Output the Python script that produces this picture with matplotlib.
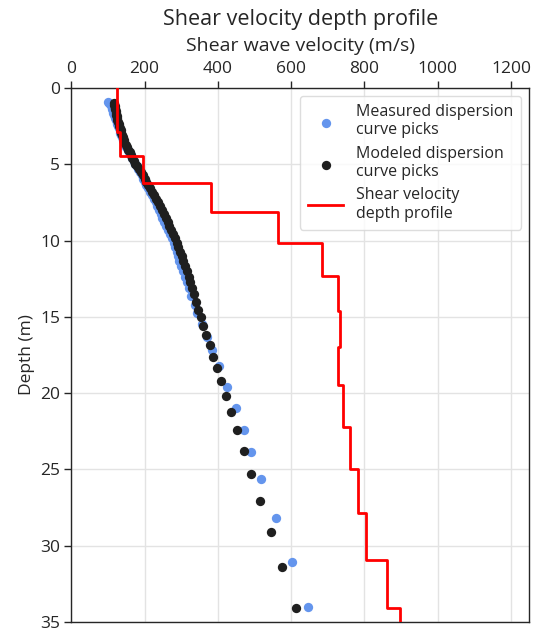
import matplotlib
matplotlib.use("Agg")
import matplotlib.pyplot as plt

plt.rcParams['font.family'] = ['Open Sans', 'DejaVu Sans']
plt.rcParams['text.color'] = '#262626'
plt.rcParams['axes.labelcolor'] = '#262626'
plt.rcParams['xtick.color'] = '#262626'
plt.rcParams['ytick.color'] = '#262626'

# measured dispersion curve picks (depth m, velocity m/s)
meas_depth = [0.90, 0.98, 1.06, 1.14, 1.22, 1.31, 1.40, 1.50, 1.62, 1.74, 1.86, 1.98,
              2.10, 2.23, 2.36, 2.50, 2.64, 2.78, 2.93, 3.08, 3.23, 3.39, 3.55, 3.71,
              3.88, 4.05, 4.22, 4.40, 4.58, 4.76, 4.95, 5.14, 5.33, 5.53, 5.73, 5.94,
              6.15, 6.36, 6.58, 6.80, 7.03, 7.26, 7.50, 7.74, 7.99, 8.24, 8.50, 8.76,
              9.03, 9.30, 9.58, 9.86, 10.15, 10.44, 10.74, 11.04, 11.35, 11.66, 12.00,
              12.36, 12.73, 13.10, 13.60, 14.20, 14.76, 15.47, 16.30, 17.17, 18.20,
              19.60, 21.00, 22.40, 23.85, 25.60, 28.20, 31.10, 34.00]
meas_vel = [101, 104, 106, 108, 110, 111, 112, 113, 114, 116, 118, 120,
            122, 124, 126, 128, 130, 132, 133, 136, 138, 140, 143, 146,
            150, 154, 158, 162, 166, 170, 174, 178, 183, 188, 192, 197,
            201, 205, 210, 215, 220, 225, 230, 235, 240, 244, 248, 253,
            259, 265, 270, 275, 280, 284, 288, 291, 295, 299, 305,
            310, 315, 320, 328, 337, 343, 358, 371, 384, 403,
            425, 449, 470, 490, 517, 558, 603, 647]

# modeled dispersion curve picks
mod_depth = [1.00, 1.10, 1.20, 1.30, 1.40, 1.50, 1.62, 1.74, 1.86, 1.98, 2.10, 2.23,
             2.36, 2.50, 2.64, 2.78, 2.93, 3.08, 3.23, 3.39, 3.55, 3.71, 3.88, 4.05,
             4.22, 4.40, 4.58, 4.76, 4.95, 5.14, 5.33, 5.53, 5.73, 5.94, 6.15, 6.36,
             6.58, 6.80, 7.03, 7.26, 7.50, 7.74, 7.99, 8.24, 8.50, 8.76, 9.03, 9.30,
             9.58, 9.86, 10.15, 10.44, 10.74, 11.04, 11.35, 11.66, 12.00, 12.36, 12.73,
             13.10, 13.50, 14.00, 14.55, 15.03, 15.60, 16.20, 16.86, 17.60, 18.37,
             19.20, 20.20, 21.25, 22.43, 23.80, 25.30, 27.10, 29.10, 31.40, 34.10]
mod_vel = [116, 117, 118, 119, 120, 121, 122, 123, 124, 125, 126, 127,
           129, 131, 133, 135, 137, 139, 141, 143, 145, 148, 151, 155,
           159, 163, 167, 171, 175, 180, 185, 190, 195, 200, 205, 210,
           215, 221, 226, 231, 237, 242, 247, 252, 258, 263, 268, 273,
           278, 283, 288, 292, 297, 301, 306, 310, 315, 320, 325,
           330, 335, 340, 346, 353, 360, 369, 378, 387, 398,
           409, 423, 437, 453, 471, 491, 516, 544, 576, 612]

# layered shear velocity profile: layer boundaries and velocity of each layer
layer_bounds = [0.0, 2.85, 4.45, 6.22, 8.10, 10.14, 12.30, 14.60, 17.00, 19.47,
                22.20, 24.98, 27.87, 30.93, 34.10, 36.0]
layer_vs = [124, 132, 195, 380, 564, 685, 728, 732, 729, 741,
            760, 782, 805, 861, 898]

# each layer is a vertical segment, joined at the boundaries
prof_v, prof_d = [], []
for i, v in enumerate(layer_vs):
    prof_v += [v, v]
    prof_d += [layer_bounds[i], layer_bounds[i + 1]]

fig = plt.figure(figsize=(5.45, 6.31), dpi=100)
ax = fig.add_axes([0.1308, 0.0143, 0.8404, 0.8462])

ax.scatter(meas_vel, meas_depth, s=45, color='#6495ED', linewidths=0,
           label='Measured dispersion\ncurve picks', zorder=3)
ax.scatter(mod_vel, mod_depth, s=45, color='#1f1f1f', linewidths=0,
           label='Modeled dispersion\ncurve picks', zorder=4)
ax.plot(prof_v, prof_d, color='red', lw=2,
        label='Shear velocity\ndepth profile', zorder=5)

ax.set_xlim(0, 1250)
ax.set_ylim(35, 0)
ax.set_xticks([0, 200, 400, 600, 800, 1000, 1200])
ax.set_yticks([0, 5, 10, 15, 20, 25, 30, 35])
ax.xaxis.tick_top()
ax.xaxis.set_label_position('top')
ax.tick_params(labelsize=12.5, length=5, width=1, direction='out', pad=3)
ax.set_xlabel('Shear wave velocity (m/s)', fontsize=14, labelpad=7)
ax.set_ylabel('Depth (m)', fontsize=12.5, labelpad=4)
ax.set_title('Shear velocity depth profile', fontsize=15.5, pad=8.5)

ax.grid(True, color='#e3e3e3', lw=1)
ax.set_axisbelow(True)
for sp in ax.spines.values():
    sp.set_color('#262626')
    sp.set_linewidth(1)

leg = ax.legend(loc='upper right', fontsize=11.5, frameon=True, fancybox=True,
                borderpad=0.5, labelspacing=0.45, handlelength=2.2,
                borderaxespad=0.5)
leg.get_frame().set_edgecolor('#d5d5d5')

fig.savefig('out.png', dpi=100)
